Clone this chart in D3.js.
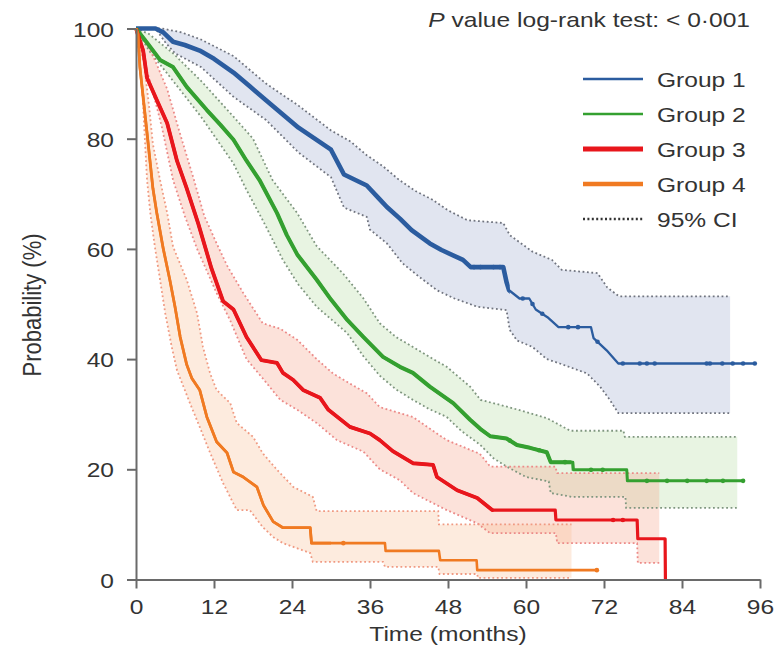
<!DOCTYPE html>
<html>
<head>
<meta charset="utf-8">
<script src="https://cdn.jsdelivr.net/npm/d3@7"></script>
<style>
  body { margin: 0; background: #fff; }
  svg { display: block; }
</style>
</head>
<body>
<svg id="chart" width="784" height="651"></svg>
<script>
// ---- data -------------------------------------------------------------
const groupNames = ["Group 1", "Group 2", "Group 3", "Group 4"];
const monthTicks = [0, 12, 24, 36, 48, 60, 72, 84, 96];
const probTicks = [0, 20, 40, 60, 80, 100];

// Kaplan-Meier estimates: [months, survival %]
const group1Surv = [[0,100],[3,100],[4.2,99.3],[5.7,97.6],[7.5,97],[9.8,96],[12,94.5],[15,92],[17.5,89.5],[20,87],[22.5,84.5],[25,82],[27.5,80],[30,78],[32,73.5],[35.5,71.5],[37.5,69],[38.6,67.6],[40.6,65.5],[42.4,63.4],[45.2,61],[47,59.8],[50.3,58],[51.5,56.7],[56.5,56.7],[57,54],[57.4,52.5],[59,51],[60.5,51],[61.5,49],[63.3,47.6],[65,45.8],[70,45.8],[70.4,43.8],[72.4,41.6],[74.2,39.2],[95.2,39.2]];
const group1Upper = [[0,100],[4,100],[7,99.3],[10,98],[15,95],[20,90],[25,86],[30,81.5],[33,79.5],[35.5,77],[38,75],[40.5,72.5],[43,70.5],[45.5,69],[48,67],[51,65.2],[56.5,64.7],[57.5,62.5],[61,59.5],[64,58],[65.5,56.2],[71,55.6],[72.5,53],[74.3,51.4],[91.4,51.4]];
const group1Lower = [[0,100],[3,100],[4.5,97.5],[6,95.5],[10,93],[15,87.6],[20,83.4],[25,77.5],[30,73],[32,67.5],[35.5,65.8],[36,63.5],[38.6,61],[41,57.4],[43.5,55],[46.3,52.5],[49,51],[52.5,49.5],[57,48.9],[57.5,45.3],[58.6,43.4],[61,42.2],[63.2,40],[65.2,39.2],[69.4,37.4],[71.4,35],[72.9,32.6],[74.2,30.2],[91.4,30.2]];
const group1Censor = [52, 53, 55, 56, 59.5, 61, 62.5, 66.5, 68, 71, 74.9, 77.5, 78.6, 79.8, 87.8, 88.3, 90.2, 91.8, 93.4, 95.2];

const group2Surv = [[0,100],[1.7,97.4],[3.7,94.3],[5.7,93],[7.8,89.4],[10.9,85.2],[13,82.5],[15,79.8],[17,76],[19,72.5],[21.7,66.5],[23.2,62.5],[24.8,59],[27.8,54.4],[30,50.8],[32.5,47.1],[35,44],[38,40.4],[40.6,38.6],[42.6,37.5],[45.2,35],[48.8,32],[51.4,29],[53,27.3],[54.5,26],[57,25.6],[58.6,24.4],[60.6,23.9],[63.2,23.1],[63.8,21.3],[67.2,21.3],[67.3,19.9],[75.5,19.9],[75.6,17.9],[93.4,17.9]];
const group2Upper = [[0,100],[2,99],[5.7,95.5],[10,90.5],[15,84],[18,80],[21,72.5],[24.8,66.5],[27.8,60.5],[31.8,55.6],[35,51],[37.5,46.5],[40,44],[42.6,42.2],[45,40.5],[47.8,38.6],[51.4,35],[53,32.6],[57.3,31.3],[60.6,30.2],[63.2,29.3],[66.8,27],[75,27],[75.2,25.9],[92.5,25.9]];
const group2Lower = [[0,100],[2,96],[5.7,90.5],[10,84],[15,75.5],[17,70.7],[19.5,65.2],[22.6,58],[25,53.5],[27.8,49.5],[32.5,44.7],[35,40.5],[37.5,37],[40,34.5],[42.6,32.6],[45,31],[47.8,29.5],[50,27],[52.9,24.5],[55,22],[57,20.5],[60,18.6],[63.5,17.8],[63.8,15.7],[67,15],[75.3,15],[75.4,13],[92.5,13]];
const group2Censor = [57.5, 62, 66, 70, 71.8, 78.6, 81.7, 84.8, 87.8, 90.3, 93.4];

const group3Surv = [[0,100],[1.1,96],[1.7,91],[3.2,87],[4.8,82.8],[6.3,76],[7.8,71],[9.6,64.5],[11.6,56.5],[13.4,50.5],[15,49],[17,44],[19.3,39.8],[21.7,39.3],[22.6,37.5],[24.2,36.2],[25.7,34.4],[28.3,33],[29.6,30.8],[32.9,27.7],[36,26.5],[37.5,25.3],[39.5,23.3],[42.6,21.1],[45.7,20.8],[46.3,18.6],[49.4,16.2],[52.5,14.8],[54.8,12.6],[64.5,12.6],[64.6,10.8],[77.1,10.8],[77.2,7.4],[81.4,7.4],[81.45,0]];
const group3Upper = [[0,100],[1.5,98],[3,94],[4.8,89],[6.5,82],[8.8,73],[10.5,66],[12.4,61],[14,57],[16.5,52],[19.5,46.5],[22.2,45.5],[24.8,43.5],[27.8,40],[30.3,37.4],[33,35.5],[35.5,33.8],[37.5,31.3],[40.6,30.2],[42.6,29.5],[44.8,27.7],[47.8,25.3],[52.9,22.8],[54.5,20.5],[64.5,20.5],[64.8,19.3],[80.5,19.3]];
const group3Lower = [[0,100],[1,95],[2.5,89],[4,82],[5.7,72.5],[7.5,66],[9.4,60],[12.4,52],[14.5,47],[17,40],[19.5,36.5],[22.2,32.6],[24.8,30.8],[27.8,28.4],[30.9,25.3],[35,23.2],[37.5,20],[40.6,18],[42.6,15.7],[47.8,12.6],[52.5,10.2],[54.5,8.4],[64.6,8.4],[64.8,6.6],[77.1,6.6],[77.2,3],[80.5,3]];
const group3Censor = [73.4, 74.9];

const group4Surv = [[0,100],[0.3,99],[0.6,93],[1.7,81],[2.6,71],[3.2,66.5],[4.2,60],[5.2,54.4],[6,49.5],[6.8,44],[7.8,39],[8.6,36.5],[9.8,34.4],[10.9,29.5],[12.4,25],[14,23],[15,19.5],[16.5,18.6],[18.6,16.8],[19.6,13.5],[21.1,10.5],[22.6,9.4],[26.8,9.4],[27,6.6],[38.3,6.6],[38.4,5.2],[46.6,5.2],[46.8,3.5],[52.4,3.5],[52.5,1.7],[70.9,1.7]];
const group4Upper = [[0,100],[0.5,99],[1,96],[2,86],[2.6,79],[3.7,72.5],[4.8,66.5],[5.7,60.4],[7.8,54.4],[9.4,48.3],[10.3,42.2],[11.4,37.4],[12.4,34.4],[14.5,32],[15.5,28.4],[18,25.9],[19.5,22.9],[21.7,19.9],[24.2,16.8],[27.2,15],[27.8,12.4],[46.5,12.4],[46.6,10],[67,10]];
const group4Lower = [[0,100],[0.5,95],[1,88],[1.7,72.5],[2.2,66.5],[2.9,60.4],[3.7,54.4],[4.5,48.3],[5.5,42.2],[6.3,38],[8.3,32],[9.8,27.7],[11.4,23],[13.4,17.5],[15.5,12.6],[17.5,12.6],[19.5,9.5],[21.1,7.7],[22.6,6.6],[26.8,4.8],[27.2,3.2],[38,3.2],[38.3,2.3],[46.5,2.3],[46.7,1],[52.5,1],[52.6,0.3],[67,0.3]];
const group4Censor = [31.9, 70.9];

// ---- appearance -------------------------------------------------------
const FONT = '"Liberation Sans", Arial, Helvetica, sans-serif';
const TEXT = "#333";
const AXIS = "#6a6a6a";
const STRETCH = 1.17;

const styles = [
  { color: "#2b5c9f", fill: "rgba(162,175,208,0.32)", ci: "#70747f", thick: 4.6, thin: 2.3, thickUntil: 57.5, legend: 2.6 },
  { color: "#34a030", fill: "rgba(178,218,158,0.30)", ci: "#7f967f", thick: 4.0, thin: 3.0, thickUntil: 67,   legend: 2.6 },
  { color: "#e8161c", fill: "rgba(245,158,132,0.30)", ci: "#ec8a88", thick: 3.8, thin: 3.2, thickUntil: 55,   legend: 5.0 },
  { color: "#f07a22", fill: "rgba(248,188,145,0.30)", ci: "#f09a82", thick: 2.8, thin: 2.6, thickUntil: 30,   legend: 4.6 }
];

const groups = [
  { name: groupNames[0], surv: group1Surv, upper: group1Upper, lower: group1Lower, censor: group1Censor },
  { name: groupNames[1], surv: group2Surv, upper: group2Upper, lower: group2Lower, censor: group2Censor },
  { name: groupNames[2], surv: group3Surv, upper: group3Upper, lower: group3Lower, censor: group3Censor },
  { name: groupNames[3], surv: group4Surv, upper: group4Upper, lower: group4Lower, censor: group4Censor }
];

// ---- scales -----------------------------------------------------------
const svg = d3.select("#chart");
const x = d3.scaleLinear().domain([0, 96]).range([136, 760]);
const y = d3.scaleLinear().domain([0, 100]).range([579.5, 28.5]);

const line = d3.line().x(d => x(d[0])).y(d => y(d[1]));

// survival value at time t
function valueAt(curve, t) {
  for (let i = 1; i < curve.length; i++) {
    const a = curve[i - 1], b = curve[i];
    if (t <= b[0]) {
      if (b[0] === a[0]) return b[1];
      return a[1] + (b[1] - a[1]) * (t - a[0]) / (b[0] - a[0]);
    }
  }
  return curve[curve.length - 1][1];
}

const defs = svg.append("defs");
styles.forEach((s, i) => {
  defs.append("clipPath").attr("id", "thick" + i)
    .append("rect")
    .attr("x", 0).attr("y", 0)
    .attr("width", x(s.thickUntil)).attr("height", 651);
});

// ---- confidence bands ---------------------------------------------------
const bands = svg.append("g");
groups.forEach((g, i) => {
  const poly = g.upper.concat(g.lower.slice().reverse());
  bands.append("path")
    .attr("d", line(poly) + "Z")
    .attr("fill", styles[i].fill)
    .attr("stroke", "none");
});

// ---- confidence limits (dotted) ----------------------------------------
const ciLines = svg.append("g");
groups.forEach((g, i) => {
  [g.upper, g.lower].forEach(c => {
    ciLines.append("path")
      .attr("d", line(c))
      .attr("fill", "none")
      .attr("stroke", styles[i].ci)
      .attr("stroke-width", 1.8)
      .attr("stroke-dasharray", "1.8,2.6");
  });
});

// ---- survival curves ----------------------------------------------------
const curves = svg.append("g");
groups.forEach((g, i) => {
  const s = styles[i];
  curves.append("path")
    .attr("d", line(g.surv))
    .attr("fill", "none")
    .attr("stroke", s.color)
    .attr("stroke-width", s.thin)
    .attr("stroke-linejoin", "round");
  curves.append("path")
    .attr("d", line(g.surv))
    .attr("fill", "none")
    .attr("stroke", s.color)
    .attr("stroke-width", s.thick)
    .attr("stroke-linejoin", "round")
    .attr("clip-path", `url(#thick${i})`);
  curves.selectAll(null)
    .data(g.censor)
    .join("circle")
    .attr("cx", t => x(t))
    .attr("cy", t => y(valueAt(g.surv, t)))
    .attr("r", 2.3)
    .attr("fill", s.color);
});

// ---- axes ---------------------------------------------------------------
function styleAxis(ax) {
  ax.attr("font-family", null).attr("font-size", null);
  ax.select(".domain").attr("stroke", AXIS).attr("stroke-width", 2);
  ax.selectAll(".tick line").attr("stroke", AXIS).attr("stroke-width", 2);
  ax.selectAll(".tick text")
    .attr("fill", TEXT)
    .style("font-family", FONT)
    .style("font-size", "21px");
}

const yAxis = svg.append("g")
  .attr("transform", `translate(${x(0)},0)`)
  .call(d3.axisLeft(y).tickValues(probTicks).tickSize(9).tickSizeOuter(0));
styleAxis(yAxis);
yAxis.selectAll(".tick text")
  .attr("x", 0).attr("dy", null)
  .attr("transform", `translate(-22,7.5) scale(${STRETCH},1)`);

const xAxis = svg.append("g")
  .attr("transform", `translate(0,${y(0)})`)
  .call(d3.axisBottom(x).tickValues(monthTicks).tickSize(9).tickSizeOuter(0));
styleAxis(xAxis);
xAxis.selectAll(".tick text")
  .attr("y", 0).attr("dy", null)
  .attr("transform", `translate(0,34.5) scale(${STRETCH},1)`);

// ---- titles -------------------------------------------------------------
svg.append("text")
  .attr("transform", `translate(${(x(0) + x(96)) / 2},641) scale(${STRETCH},1)`)
  .attr("text-anchor", "middle")
  .attr("fill", TEXT)
  .style("font-family", FONT).style("font-size", "21px")
  .text("Time (months)");

svg.append("text")
  .attr("transform", `translate(40.5,305) scale(${STRETCH},1) rotate(-90)`)
  .attr("text-anchor", "middle")
  .attr("fill", TEXT)
  .style("font-family", FONT).style("font-size", "22px")
  .text("Probability (%)");

const pText = svg.append("text")
  .attr("transform", `translate(750,27) scale(1.2,1)`)
  .attr("text-anchor", "end")
  .attr("fill", TEXT)
  .style("font-family", FONT).style("font-size", "20.5px");
pText.append("tspan").style("font-style", "italic").text("P");
pText.append("tspan").text(" value log-rank test: < 0\u00B7001");

// ---- legend -------------------------------------------------------------
const legend = svg.append("g");
const legendRows = groups.map((g, i) => ({ label: g.name, color: styles[i].color, width: styles[i].legend, dash: null }))
  .concat([{ label: "95% CI", color: "#333", width: 2.4, dash: "2,2.4" }]);
legendRows.forEach((r, i) => {
  const ly = 79 + i * 35;
  legend.append("line")
    .attr("x1", 583).attr("x2", 643)
    .attr("y1", ly).attr("y2", ly)
    .attr("stroke", r.color)
    .attr("stroke-width", r.width)
    .attr("stroke-dasharray", r.dash);
  legend.append("text")
    .attr("transform", `translate(657,${ly + 7.5}) scale(${STRETCH},1)`)
    .attr("fill", TEXT)
    .style("font-family", FONT).style("font-size", "21px")
    .text(r.label);
});
</script>
</body>
</html>
